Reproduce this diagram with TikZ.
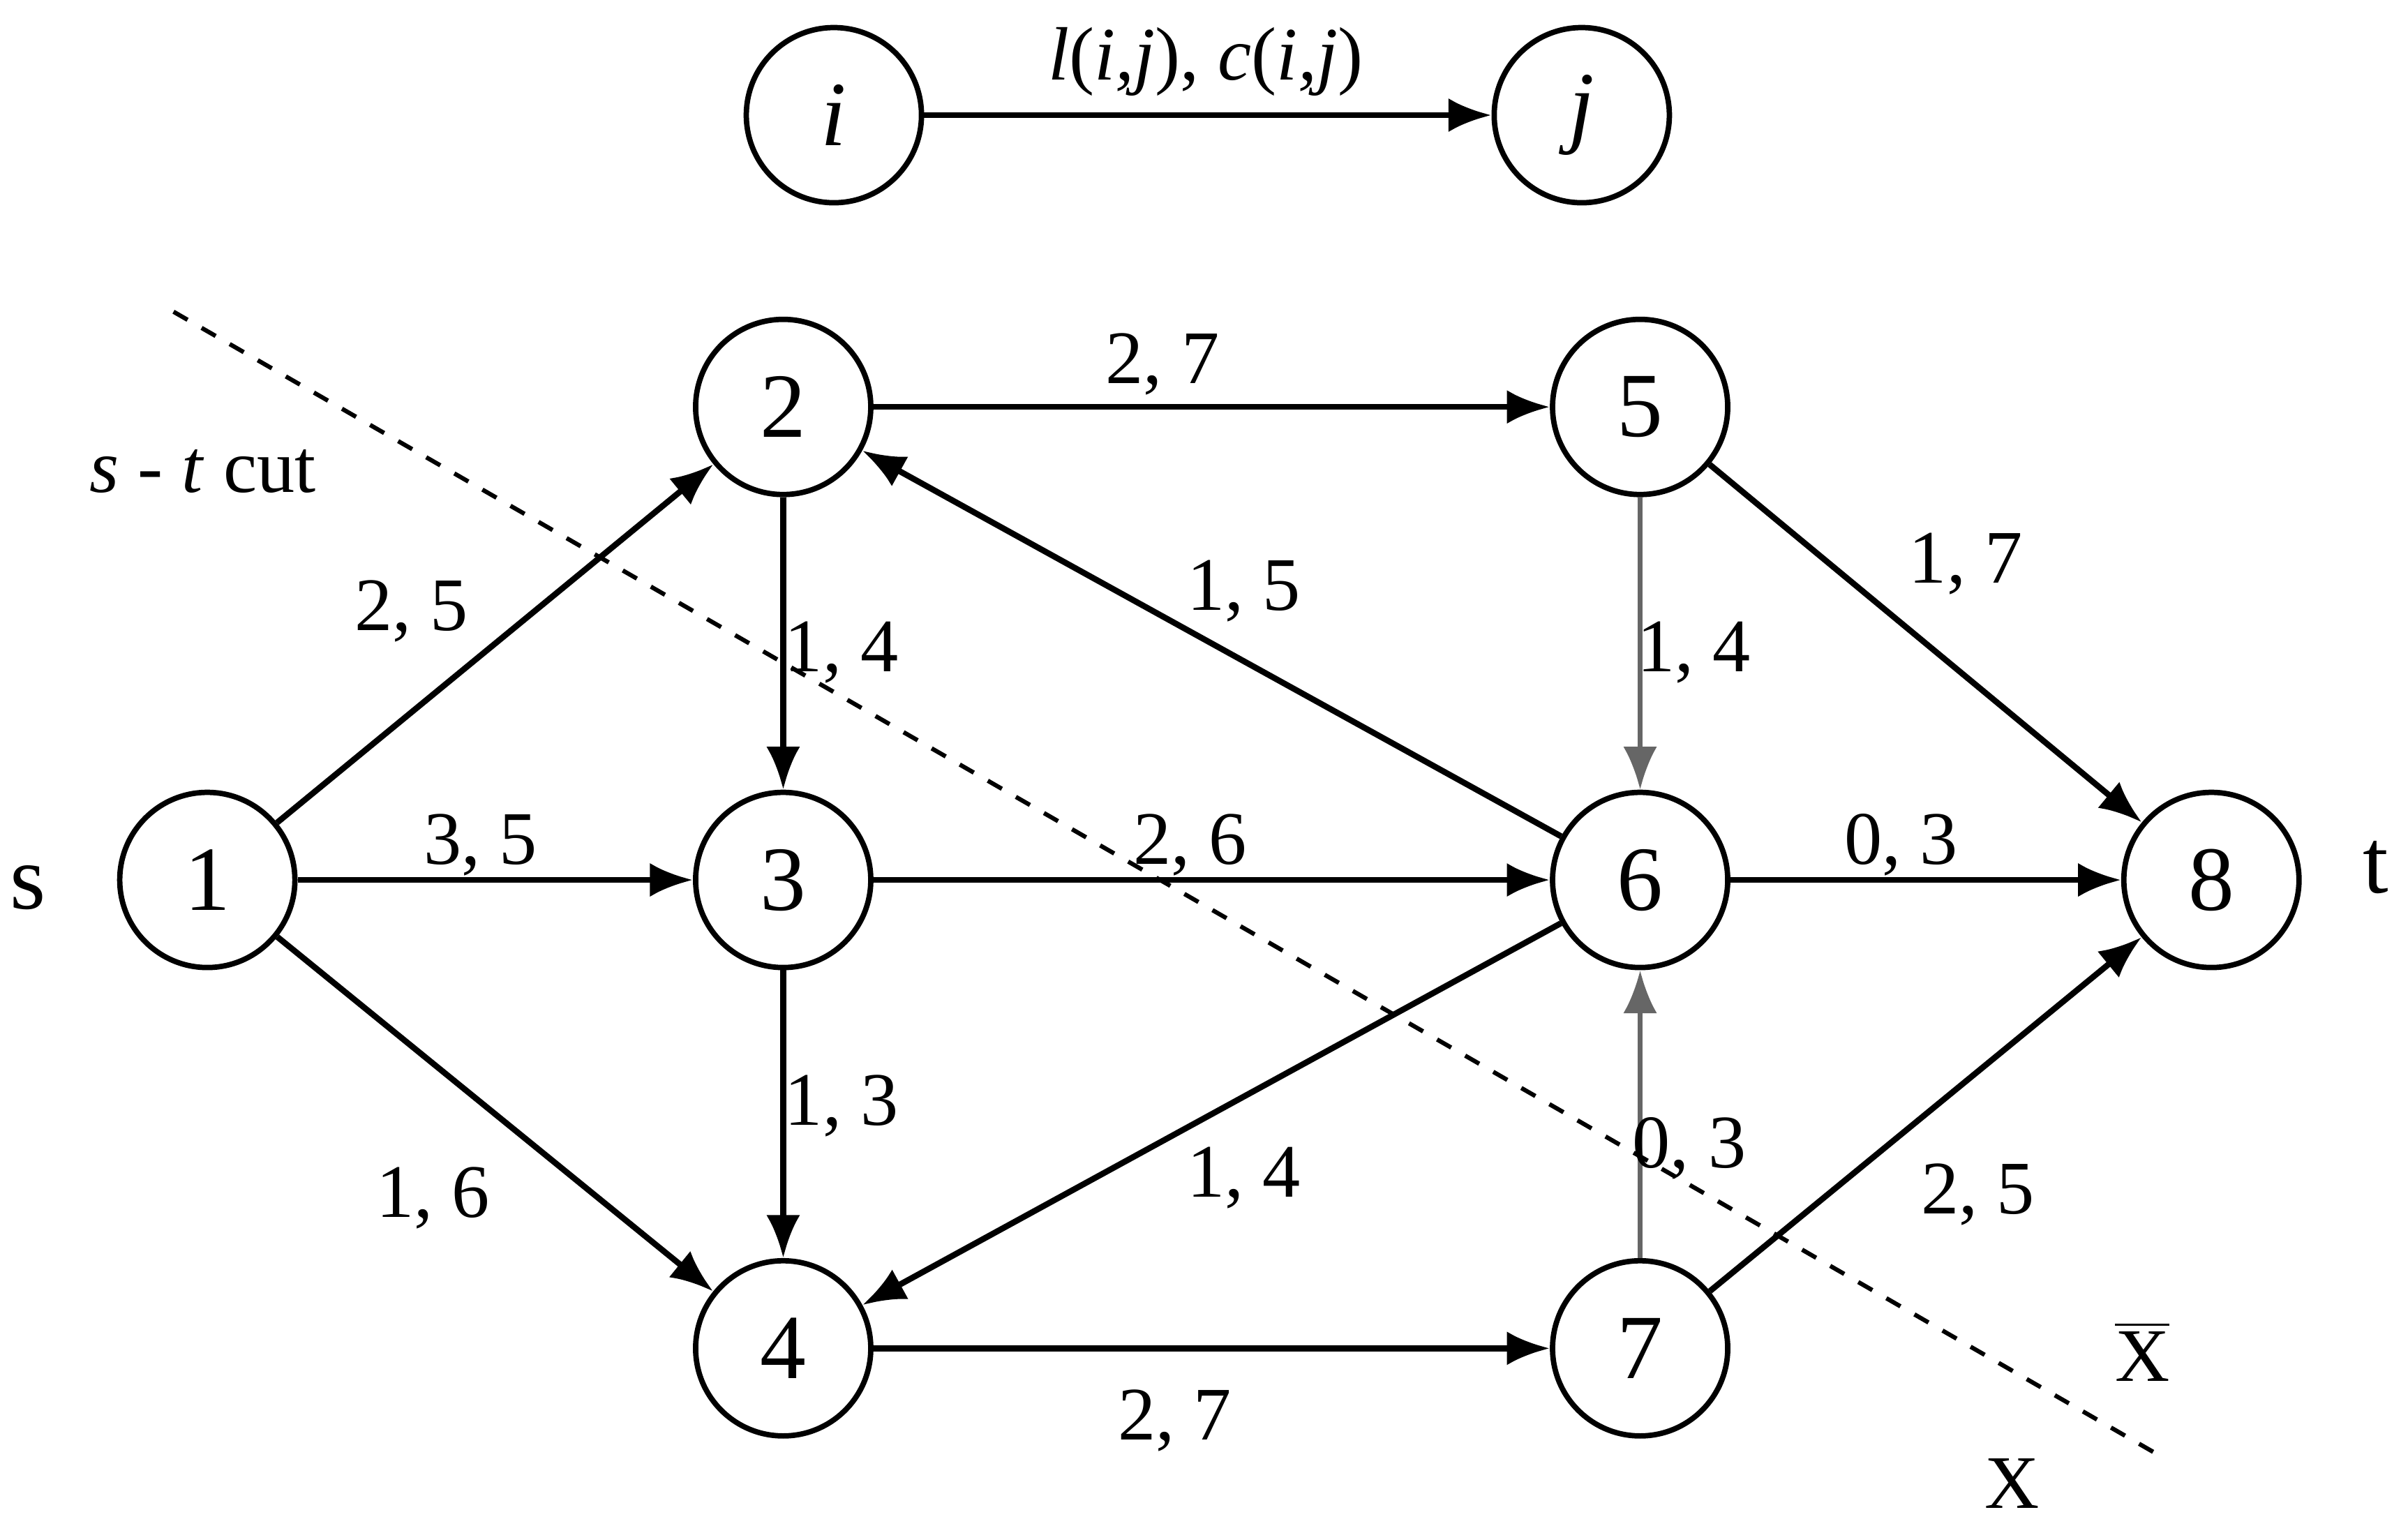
\documentclass[tikz,border=0pt]{standalone}
\usepackage{fontspec}
\setmainfont{Liberation Serif}
\usetikzlibrary{arrows.meta}
\begin{document}
\begin{tikzpicture}[x=0.01cm,y=-0.01cm,
  nd/.style={circle,draw,line width=1pt,minimum size=1.14cm,inner sep=0pt,font=\fontsize{17}{20}\selectfont},
  ed/.style={-{Latex[length=0.28cm,width=0.22cm]},line width=1.1pt},
  lb/.style={font=\fontsize{14}{17}\selectfont},
  big/.style={font=\fontsize{17}{20}\selectfont}]
\useasboundingbox (0,0) rectangle (1568,998);
\node[nd] (i) at (543,75) {\textit{i}};
\node[nd] (j) at (1030,75) {\textit{j}};
\node[nd] (n2) at (510,265) {2};
\node[nd] (n5) at (1068,265) {5};
\node[nd] (n1) at (135,573) {1};
\node[nd] (n3) at (510,573) {3};
\node[nd] (n6) at (1068,573) {6};
\node[nd] (n8) at (1440,573) {8};
\node[nd] (n4) at (510,878) {4};
\node[nd] (n7) at (1068,878) {7};
\draw[ed] (i) -- (j);
\node[lb] (lij) at (785,40) {\textit{l}(\textit{i,j}), \textit{c}(\textit{i,j})};
\coordinate (c1) at (113,203);
\coordinate (c2) at (1410,950);
\draw[dashed,line width=0.8pt] (c1) -- (c2);
\draw[ed] (n2) -- (n5);
\draw[ed] (n1) -- (n2);
\draw[ed] (n2) -- (n3);
\draw[ed] (n6) -- (n2);
\draw[ed,draw=gray!80!black,line width=0.9pt] (n5) -- (n6);
\draw[ed] (n5) -- (n8);
\draw[ed] (n1) -- (n3);
\draw[ed] (n3) -- (n6);
\draw[ed] (n6) -- (n8);
\draw[ed] (n3) -- (n4);
\draw[ed] (n1) -- (n4);
\draw[ed] (n6) -- (n4);
\draw[ed,draw=gray!80!black,line width=0.9pt] (n7) -- (n6);
\draw[ed] (n7) -- (n8);
\draw[ed] (n4) -- (n7);
\node[lb] (a) at (757,237) {2, 7};
\node[lb] (b) at (268,398) {2, 5};
\node[lb] (c) at (548,425) {1, 4};
\node[lb] (d) at (810,385) {1, 5};
\node[lb] (e) at (1103,425) {1, 4};
\node[lb] (f) at (1280,367) {1, 7};
\node[lb] (g) at (313,550) {3, 5};
\node[lb] (h) at (775,550) {2, 6};
\node[lb] (k) at (1238,550) {0, 3};
\node[lb] (l) at (548,720) {1, 3};
\node[lb] (m) at (282,780) {1, 6};
\node[lb] (n) at (810,767) {1, 4};
\node[lb] (o) at (1100,748) {0, 3};
\node[lb] (p) at (1288,778) {2, 5};
\node[lb] (q) at (765,925) {2, 7};
\node[big] (s) at (18,578) {s};
\node[big] (t) at (1547,565) {t};
\node[lb] (cut) at (132,307) {\textit{s} - \textit{t} cut};
\node[lb] (xb) at (1395,880) {$\overline{\mbox{X}}$};
\node[lb] (x) at (1310,966) {X};
\end{tikzpicture}
\end{document}
